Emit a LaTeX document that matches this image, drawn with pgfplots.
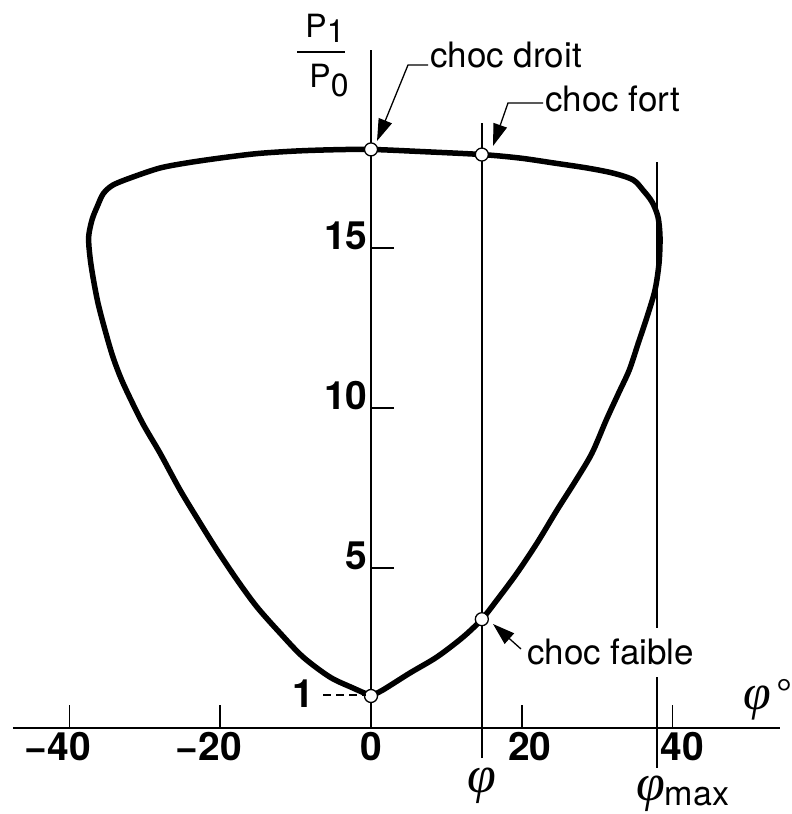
\documentclass[border=0pt]{standalone}
\usepackage{fontspec}
\setmainfont{TeX Gyre Heros}
\newfontfamily\phifont{Liberation Serif}
\usepackage{pgfplots}
\usepackage{pgfplotstable}
\pgfplotsset{compat=1.18}
\usetikzlibrary{arrows.meta}

% Shock polar: pressure ratio P1/P0 against deflection angle (degrees)
\pgfplotstableread{
x y
0 1.0
-2.39 1.25
-5.44 1.59
-9.02 2.22
-12.07 2.97
-15.12 3.78
-17.77 4.63
-20.42 5.56
-22.68 6.41
-25.33 7.44
-27.98 8.59
-30.37 9.56
-32.89 10.78
-34.22 11.59
-35.28 12.44
-36.21 13.28
-36.87 14.09
-37.27 14.72
-37.45 15.34
-37.0 15.88
-36.3 16.30
-35.5 16.70
-34.2 16.97
-31.56 17.22
-27.98 17.50
-24.40 17.66
-20.03 17.81
-15.12 17.95
-10.0 18.03
-5.0 18.07
0 18.08
7.0 18.01
14.7 17.92
19.76 17.81
24.14 17.66
28.65 17.50
32.10 17.34
34.75 17.13
36.07 16.81
37.27 16.44
38.06 15.97
38.33 15.34
38.20 14.53
37.67 13.69
36.60 12.84
35.45 12.03
34.26 11.19
32.85 10.47
31.21 9.63
29.31 8.59
27.20 7.75
24.67 6.81
22.02 5.78
19.36 4.84
16.71 4.00
14.7 3.40
12.20 2.84
8.75 2.22
5.17 1.72
1.59 1.19
0 1.0
}\polar

\begin{document}
\begin{tikzpicture}
\path[use as bounding box] (0,0) rectangle (792pt,814pt);
\begin{axis}[
  at={(371pt,86pt)}, anchor=origin,
  x=7.54pt, y=32pt,
  xmin=-47.5, xmax=54.2, ymin=0, ymax=21.19,
  axis lines=middle,
  axis line style={-, line width=1.6pt},
  axis on top,
  clip=false,
  hide obscured x ticks=false,
  hide obscured y ticks=false,
  tick align=inside,
  major tick length=23pt,
  tick style={line width=1.5pt, black},
  xtick={-40,-20,0,20,40},
  xticklabels={\llap{−}40,\llap{−}20,0,\hspace*{16pt}20,\hspace*{20pt}40},
  xticklabel style={font=\fontsize{39}{42}\selectfont\bfseries, inner sep=4pt},
  ytick={5,10,15},
  yticklabels={5,10,15},
  yticklabel style={font=\fontsize{39}{42}\selectfont\bfseries, yshift=12pt},
]
\addplot[line width=5.5pt, smooth, line join=round, line cap=round] table {\polar};
\addplot[only marks, mark=*, mark size=6.5pt,
  mark options={fill=white, draw=black, line width=1.3pt}]
  coordinates {(0,18.08) (14.7,17.92) (14.7,3.4) (0,1)};
% deflection angle phi and maximum deflection phi_max
\addplot[line width=1.6pt] coordinates {(14.7,-0.94) (14.7,18.9)};
\addplot[line width=1.6pt] coordinates {(37.9,-1.25) (37.9,17.7)};
\end{axis}

\begin{scope}[x=1pt, y=-1pt, yshift=814pt]
  % axis title P1/P0
  \node[anchor=base, inner sep=0, font=\fontsize{32}{34}\selectfont] at (325,38)
    {P\raisebox{-5pt}{1}};
  \draw[line width=1.8pt] (297,52) -- (345,52);
  \node[anchor=base, inner sep=0, font=\fontsize{32}{34}\selectfont] at (329,88)
    {P\raisebox{-9pt}{0}};
  % label of the unit ratio
  \node[anchor=east, inner sep=0, font=\fontsize{39}{42}\selectfont\bfseries] at (314,694) {1};
  \draw[line width=1.5pt, dash pattern=on 8pt off 5pt] (323,695) -- (366,695);
  % annotations
  \node[anchor=base west, inner sep=0, font=\fontsize{35}{38}\selectfont] at (430,68) {choc droit};
  \draw[line width=1.3pt, -{Triangle[length=22pt, width=14pt]}] (428,65) -- (408,65) -- (377,141);
  \node[anchor=base west, inner sep=0, font=\fontsize{35}{38}\selectfont] at (545,112) {choc fort};
  \draw[line width=1.3pt, -{Triangle[length=22pt, width=14pt]}] (543,103) -- (508,103) -- (493,146);
  \node[anchor=base west, fill=white, inner xsep=2pt, inner ysep=11pt, font=\fontsize{35}{38}\selectfont] at (525,665) {choc faible};
  \draw[line width=1.3pt, -{Triangle[length=22pt, width=14pt]}] (521,649) -- (493,624);
  % angle labels
  \node[anchor=center, inner sep=0, font=\fontsize{50}{52}\selectfont] at (757,703) {\phifont\itshape φ};
  \node[anchor=center, inner sep=0, font=\fontsize{40}{42}\selectfont] at (784,693) {°};
  \node[anchor=center, inner sep=0, font=\fontsize{52}{54}\selectfont] at (482,786) {\phifont\itshape φ};
  \node[anchor=base west, inner sep=0, font=\fontsize{52}{54}\selectfont] at (636,801)
    {\phifont\itshape φ\fontsize{34}{36}\selectfont\upshape\rmfamily\raisebox{-5pt}{max}};
\end{scope}
\end{tikzpicture}
\end{document}
